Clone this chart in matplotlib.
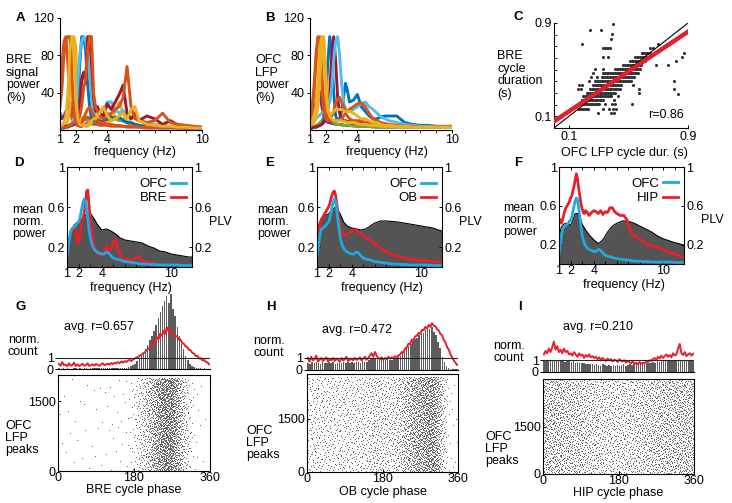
import numpy as np
import matplotlib
matplotlib.use("Agg")
import matplotlib.pyplot as plt
from matplotlib.ticker import FixedLocator
from matplotlib.lines import Line2D

plt.rcParams['font.family'] = ['Liberation Sans', 'DejaVu Sans']
plt.rcParams['font.size'] = 9
plt.rcParams['axes.linewidth'] = 0.8
plt.rcParams['xtick.major.size'] = 3
plt.rcParams['ytick.major.size'] = 3
plt.rcParams['xtick.minor.size'] = 2
plt.rcParams['ytick.minor.size'] = 2
plt.rcParams['xtick.major.pad'] = 0.5
plt.rcParams['ytick.major.pad'] = 1.5
plt.rcParams['xtick.major.width'] = 0.7
plt.rcParams['ytick.major.width'] = 0.7

# ------------------------------------------------------------------ data
MBLUE, MORANGE, MYELLOW = '#0072BD', '#D95319', '#EDB120'
MPURPLE, MGREEN, MLBLUE, MDRED = '#7E2F8E', '#77AC30', '#4DBEEE', '#A2142F'
RED = '#e8202a'
CYAN = '#1fa9e1'

SPEC_FREQ = [1.0, 1.125, 1.25, 1.375, 1.5, 1.625, 1.75, 1.875, 2.0, 2.125, 2.25, 2.375, 2.5, 2.625,
             2.75, 2.875, 3.0, 3.125, 3.25, 3.375, 3.5, 3.75, 4.0, 4.25, 4.5, 4.75, 5.0, 5.25, 5.5,
             5.75, 6.0, 6.5, 7.0, 7.5, 8.0, 8.5, 9.0, 9.5, 10.0]

A_ORANGE1 = [25, 45, 80, 97, 100, 100, 60, 20, 8, 5, 5, 8, 12, 18, 22, 25, 20, 15, 12, 10, 8,
             8, 6, 6, 5, 5, 4, 4, 4, 4, 3, 3, 3, 3, 3, 2, 2, 2, 2]
A_YELLOW1 = [5, 5, 8, 15, 40, 85, 100, 95, 40, 12, 6, 5, 5, 5, 6, 8, 10, 12, 12, 15, 18,
             25, 15, 10, 12, 15, 18, 12, 22, 25, 10, 6, 5, 4, 4, 3, 3, 2, 2]
A_PURPLE = [18, 12, 15, 20, 25, 30, 28, 15, 8, 5, 4, 4, 5, 6, 8, 8, 7, 6, 8, 10, 10,
            12, 10, 12, 14, 12, 10, 8, 7, 6, 5, 4, 4, 3, 3, 3, 2, 2, 2]
A_BLUE = [2, 2, 2, 3, 3, 4, 5, 6, 10, 25, 70, 100, 100, 85, 50, 25, 12, 10, 12, 10, 8,
          10, 12, 14, 12, 14, 10, 8, 8, 6, 5, 4, 4, 3, 3, 3, 2, 2, 2]
A_LBLUE = [3, 3, 4, 4, 5, 6, 8, 12, 20, 50, 80, 95, 100, 95, 80, 60, 35, 20, 15, 14, 18,
           22, 30, 30, 22, 18, 21, 15, 12, 14, 10, 8, 6, 5, 4, 4, 3, 3, 3]
A_DRED = [3, 3, 3, 4, 4, 5, 5, 6, 8, 12, 20, 55, 62, 50, 100, 100, 70, 35, 20, 25, 18,
          15, 28, 22, 30, 38, 48, 18, 12, 18, 10, 15, 12, 6, 10, 5, 4, 3, 3]
A_ORANGE2 = [2, 2, 3, 3, 4, 5, 6, 8, 10, 12, 15, 25, 45, 55, 85, 100, 100, 40, 25, 20, 15,
             12, 15, 18, 22, 25, 35, 68, 25, 12, 10, 8, 10, 18, 8, 6, 5, 4, 3]
A_GREEN = [3, 3, 3, 4, 4, 5, 5, 6, 6, 8, 10, 12, 14, 12, 10, 8, 7, 8, 10, 12, 14,
           16, 18, 15, 12, 10, 12, 8, 6, 6, 5, 4, 4, 3, 3, 3, 2, 2, 2]
A_YELLOW2 = [4, 4, 5, 6, 10, 25, 60, 100, 90, 30, 10, 6, 5, 4, 4, 5, 8, 12, 20, 25, 15,
             10, 8, 10, 20, 30, 18, 10, 8, 6, 5, 4, 4, 3, 3, 3, 2, 2, 2]
A_ORANGE3 = [40, 70, 95, 100, 70, 30, 12, 8, 6, 5, 6, 8, 10, 12, 14, 12, 10, 8, 6, 6, 5,
             5, 5, 4, 4, 4, 4, 3, 3, 3, 3, 2, 2, 2, 2, 2, 2, 2, 2]

B_ORANGE1 = [10, 20, 45, 80, 100, 95, 50, 20, 12, 10, 12, 15, 20, 28, 33, 35, 30, 25, 22, 20, 22,
             25, 28, 29, 25, 18, 12, 10, 8, 7, 6, 5, 4, 4, 3, 3, 3, 3, 3]
B_YELLOW1 = [8, 10, 15, 25, 50, 90, 100, 80, 40, 20, 16, 18, 20, 22, 22, 22, 22, 21, 20, 20, 20,
             18, 15, 12, 12, 10, 8, 8, 6, 5, 5, 4, 4, 3, 3, 3, 3, 3, 3]
B_YELLOW2 = [5, 6, 8, 12, 25, 55, 95, 100, 60, 25, 15, 12, 10, 10, 10, 10, 10, 9, 9, 8, 8,
             8, 7, 6, 6, 5, 5, 5, 4, 4, 4, 3, 3, 3, 3, 3, 3, 3, 3]
B_PURPLE = [12, 15, 20, 30, 45, 40, 25, 15, 10, 8, 8, 7, 7, 6, 6, 6, 6, 5, 5, 5, 5,
            5, 4, 4, 4, 4, 4, 3, 3, 3, 3, 3, 3, 3, 3, 3, 3, 3, 3]
B_BLUE = [2, 2, 3, 3, 4, 5, 6, 10, 30, 70, 100, 85, 40, 15, 10, 12, 20, 35, 50, 42, 30,
          32, 38, 25, 20, 15, 12, 12, 14, 15, 15, 15, 8, 6, 5, 5, 4, 4, 4]
B_DRED = [2, 2, 3, 3, 4, 5, 6, 8, 12, 20, 40, 80, 100, 75, 35, 18, 12, 10, 10, 9, 9,
          8, 8, 8, 7, 7, 6, 6, 5, 5, 5, 4, 4, 3, 3, 3, 3, 3, 3]
B_LBLUE = [8, 8, 10, 12, 14, 16, 18, 20, 22, 25, 30, 45, 75, 95, 100, 80, 50, 30, 22, 20, 20,
           22, 25, 28, 30, 25, 22, 18, 14, 12, 10, 8, 6, 5, 4, 4, 3, 3, 3]
B_GREEN = [3, 3, 4, 5, 6, 8, 10, 14, 18, 15, 12, 10, 8, 7, 6, 6, 5, 5, 5, 5, 5,
           4, 4, 4, 4, 4, 3, 3, 3, 3, 3, 3, 3, 3, 3, 3, 3, 3, 3]
B_ORANGE2 = [15, 25, 40, 70, 95, 100, 60, 30, 20, 15, 12, 10, 10, 10, 10, 10, 12, 15, 18, 15, 12,
             10, 10, 10, 8, 8, 6, 6, 5, 5, 4, 4, 4, 3, 3, 3, 3, 3, 3]

A_LINES = [(MPURPLE, A_PURPLE), (MGREEN, A_GREEN), (MORANGE, A_ORANGE3), (MYELLOW, A_YELLOW2),
           (MBLUE, A_BLUE), (MLBLUE, A_LBLUE), (MDRED, A_DRED), (MORANGE, A_ORANGE2),
           (MORANGE, A_ORANGE1), (MYELLOW, A_YELLOW1)]
B_LINES = [(MPURPLE, B_PURPLE), (MGREEN, B_GREEN), (MBLUE, B_BLUE), (MDRED, B_DRED),
           (MLBLUE, B_LBLUE), (MORANGE, B_ORANGE2), (MORANGE, B_ORANGE1), (MYELLOW, B_YELLOW2),
           (MYELLOW, B_YELLOW1)]

# C: cycle durations (s); dense rows (y, x_from, x_to) and isolated points
C_ROWS = [(0.165, 0.164, 0.237), (0.202, 0.170, 0.309), (0.236, 0.186, 0.332),
          (0.270, 0.197, 0.388), (0.302, 0.220, 0.410), (0.338, 0.242, 0.444),
          (0.372, 0.264, 0.455), (0.406, 0.276, 0.522), (0.438, 0.320, 0.544),
          (0.472, 0.332, 0.567), (0.506, 0.410, 0.578), (0.543, 0.466, 0.589),
          (0.571, 0.510, 0.611), (0.605, 0.544, 0.634), (0.642, 0.589, 0.645),
          (0.682, 0.332, 0.376)]
C_SINGLE_X = [0.293, 0.383, 0.403, 0.332, 0.372, 0.399, 0.417, 0.343, 0.388, 0.410, 0.522,
              0.403, 0.432, 0.573, 0.830, 0.164, 0.180, 0.573, 0.809, 0.170, 0.188, 0.533,
              0.235, 0.809, 0.246, 0.287, 0.264, 0.276, 0.332, 0.686, 0.768, 0.820, 0.332,
              0.365, 0.858, 0.874, 0.645, 0.668, 0.186, 0.701, 0.383, 0.392, 0.242, 0.314, 0.399]
C_SINGLE_Y = [0.125, 0.125, 0.125, 0.165, 0.165, 0.165, 0.165, 0.202, 0.202, 0.202, 0.202,
              0.236, 0.270, 0.302, 0.290, 0.338, 0.338, 0.338, 0.330, 0.372, 0.372, 0.372,
              0.406, 0.400, 0.438, 0.438, 0.472, 0.506, 0.506, 0.543, 0.543, 0.571, 0.605,
              0.605, 0.605, 0.642, 0.682, 0.682, 0.718, 0.718, 0.761, 0.803, 0.840, 0.840, 0.888]
C_FIT_SLOPE, C_FIT_INTERCEPT = 0.854, 0.057
C_R = 0.86

# D-F: PLV (grey) and mean normalised power
PLV_FREQ = [1.0, 1.2, 1.4, 1.6, 1.8, 2.0, 2.2, 2.4, 2.6, 2.8, 3.0, 3.3, 3.6, 4.0, 4.4, 4.8, 5.2,
            5.6, 6.0, 6.5, 7.0, 7.5, 8.0, 8.5, 9.0, 9.5, 10.0, 10.5, 11.0, 11.5, 11.8]
D_PLV = [0.14, 0.28, 0.37, 0.41, 0.44, 0.45, 0.47, 0.49, 0.52, 0.53, 0.54, 0.49, 0.43, 0.37, 0.38,
         0.36, 0.33, 0.29, 0.27, 0.26, 0.25, 0.24, 0.21, 0.19, 0.16, 0.15, 0.13, 0.12, 0.11, 0.10, 0.10]
E_PLV = [0.35, 0.44, 0.49, 0.51, 0.52, 0.53, 0.56, 0.58, 0.60, 0.57, 0.53, 0.45, 0.41, 0.39, 0.38,
         0.37, 0.38, 0.41, 0.44, 0.46, 0.46, 0.455, 0.45, 0.44, 0.43, 0.42, 0.41, 0.40, 0.39, 0.37, 0.36]
F_PLV = [0.28, 0.38, 0.41, 0.42, 0.41, 0.40, 0.45, 0.52, 0.52, 0.48, 0.41, 0.35, 0.30, 0.25, 0.21,
         0.25, 0.33, 0.39, 0.42, 0.445, 0.44, 0.42, 0.39, 0.36, 0.33, 0.29, 0.26, 0.24, 0.22, 0.205, 0.195]

POW_FREQ = [1.0, 1.1, 1.2, 1.3, 1.4, 1.5, 1.6, 1.7, 1.8, 1.9, 2.0, 2.1, 2.2, 2.3, 2.4, 2.5, 2.6, 2.7,
            2.8, 2.9, 3.0, 3.1, 3.2, 3.3, 3.4, 3.5, 3.6, 3.8, 4.0, 4.2, 4.4, 4.6, 4.8, 5.0, 5.2, 5.4,
            5.6, 5.8, 6.0, 6.3, 6.6, 6.9, 7.2, 7.5, 7.8, 8.2, 8.6, 9.0, 9.5, 10.0, 10.5, 11.0, 11.5, 11.8]
NAN = float('nan')
OFC_POW = [0.10, 0.18, 0.28, 0.35, 0.38, 0.39, 0.40, 0.41, 0.42, 0.44, 0.45, 0.48, 0.54, 0.60, 0.65,
           0.68, 0.66, 0.58, 0.48, 0.38, 0.30, 0.25, 0.21, 0.19, 0.17, 0.16, 0.15,
           0.14, 0.13, 0.13, 0.15, 0.14, 0.11, 0.09, 0.08, 0.075, 0.07, 0.06, 0.055,
           0.05, 0.045, 0.04, 0.035, 0.03, 0.03, 0.025, 0.025, 0.02, 0.02, 0.02, 0.02, 0.015, 0.015, 0.015]
BRE_POW = [0.08, 0.15, 0.25, 0.32, 0.36, 0.38, 0.40, 0.42, 0.35, 0.25, 0.24, 0.30, 0.38, 0.47, 0.50,
           0.55, 0.65, 0.76, 0.77, 0.62, 0.48, 0.38, 0.30, 0.24, 0.19, 0.16, 0.14,
           0.13, 0.12, 0.15, 0.21, 0.16, 0.18, 0.26, 0.27, 0.17, 0.12, 0.09, 0.08,
           0.07, 0.07, 0.08, 0.11, 0.06, 0.05, 0.045, 0.04, NAN, NAN, NAN, NAN, NAN, NAN, NAN]
OB_POW = [0.25, 0.32, 0.40, 0.45, 0.48, 0.50, 0.52, 0.54, 0.56, 0.58, 0.60, 0.63, 0.68, 0.72, 0.75,
          0.76, 0.72, 0.64, 0.55, 0.46, 0.40, 0.36, 0.33, 0.32, 0.32, 0.32, 0.33,
          0.34, 0.36, 0.37, 0.37, 0.35, 0.33, 0.31, 0.29, 0.28, 0.27, 0.25, 0.23,
          0.21, 0.18, 0.16, 0.14, 0.12, 0.11, 0.10, 0.09, 0.08, 0.075, 0.07, 0.06, 0.055, 0.05, 0.05]
HIP_POW = [0.47, 0.45, 0.42, 0.45, 0.50, 0.55, 0.58, 0.60, 0.62, 0.64, 0.68, 0.70, 0.75, 0.80, 0.87,
           0.93, 0.88, 0.78, 0.70, 0.62, 0.57, 0.53, 0.52, 0.55, 0.54, 0.52, 0.50,
           0.53, 0.55, 0.54, 0.52, 0.55, 0.51, 0.54, 0.53, 0.58, 0.58, 0.54, 0.52,
           0.50, 0.50, 0.45, 0.33, 0.29, 0.27, 0.24, 0.20, 0.19, 0.17, 0.15, 0.12, 0.10, 0.08, 0.075]

# G-I: phase histograms (72 bins of 5 deg) and red curves (90 points of 4 deg)
G_BARS = [0.05, 0.03, 0.06, 0.04, 0.05, 0.03, 0.04, 0.06, 0.05, 0.03, 0.05, 0.04, 0.06, 0.05, 0.04,
          0.06, 0.05, 0.07, 0.05, 0.06, 0.08, 0.06, 0.07, 0.05, 0.08, 0.07, 0.09, 0.06, 0.08, 0.1,
          0.08, 0.1, 0.12, 0.16, 0.25, 0.35, 0.5, 0.7, 0.9, 1.2, 1.5, 1.8, 2.2, 2.6, 3.0, 3.5, 4.0,
          4.6, 5.2, 5.7, 6.2, 6.6, 6.0, 6.8, 5.5, 4.8, 3.8, 3.0, 2.3, 1.8, 1.2, 0.8, 0.5, 0.3, 0.2,
          0.12, 0.08, 0.05, 0.04, 0.05, 0.03, 0.04]
H_BARS = [0.6, 0.5, 0.7, 0.55, 0.65, 0.6, 0.5, 0.7, 0.6, 0.55, 0.65, 0.6, 0.7, 0.5, 0.6, 0.65, 0.55,
          0.7, 0.6, 0.65, 0.55, 0.7, 0.6, 0.65, 0.7, 0.6, 0.75, 0.65, 0.7, 0.8, 0.9, 1.0, 0.95, 1.0,
          0.85, 0.9, 0.8, 0.85, 0.9, 0.8, 0.85, 0.95, 1.0, 1.1, 1.2, 1.4, 1.6, 1.8, 2.0, 2.2, 2.4,
          2.6, 2.7, 2.9, 3.0, 3.1, 3.3, 3.5, 3.4, 3.6, 3.2, 2.9, 2.3, 1.8, 1.1, 0.7, 0.3, 0.15, 0.1,
          0.08, 0.1, 0.08]
I_BARS = [0.95, 1.0, 0.9, 1.05, 0.95, 1.0, 0.9, 0.95, 1.0, 0.9, 0.85, 0.95, 0.9, 0.85, 0.9, 0.8,
          0.85, 0.8, 0.75, 0.8, 0.7, 0.7, 0.65, 0.7, 0.6, 0.65, 0.6, 0.55, 0.65, 0.6, 0.55, 0.6,
          0.55, 0.6, 0.5, 0.6, 0.55, 0.6, 0.65, 0.55, 0.6, 0.65, 0.6, 0.7, 0.65, 0.7, 0.65, 0.75,
          0.7, 0.8, 0.75, 0.8, 0.85, 0.8, 0.9, 0.85, 0.9, 0.95, 0.9, 1.0, 0.95, 0.9, 1.0, 0.95, 1.05,
          1.0, 0.95, 1.0, 1.05, 0.95, 1.0, 0.95]
G_RED = [0.45, 0.30, 0.62, 0.35, 0.40, 0.25, 0.52, 0.30, 0.36, 0.58, 0.28, 0.42, 0.26, 0.36, 0.48,
         0.30, 0.34, 0.52, 0.28, 0.36, 0.42, 0.30, 0.46, 0.36, 0.30, 0.42, 0.52, 0.36, 0.42, 0.48,
         0.40, 0.54, 0.44, 0.58, 0.50, 0.62, 0.54, 0.68, 0.58, 0.72, 0.64, 0.78, 0.82, 0.72, 0.88,
         0.96, 1.04, 1.10, 1.22, 1.30, 1.44, 1.52, 1.72, 1.80, 2.02, 2.20, 2.48, 2.36, 2.90, 2.70,
         3.20, 3.02, 3.46, 3.20, 3.80, 3.40, 3.62, 3.28, 3.30, 2.96, 3.00, 2.68, 2.70, 2.36, 2.30,
         2.06, 2.00, 1.74, 1.70, 1.48, 1.40, 1.18, 1.20, 0.96, 0.98, 0.78, 0.82, 0.66, 0.60, 0.42]
H_RED = [1.0, 0.7, 1.1, 0.8, 0.9, 1.2, 0.7, 0.85, 1.0, 0.75, 0.9, 1.05, 0.7, 0.9, 0.8, 1.0, 0.75,
         0.95, 0.85, 0.7, 1.0, 0.8, 0.9, 1.1, 0.75, 0.85, 0.95, 0.8, 1.0, 0.85, 0.9, 1.05, 0.8, 0.95,
         1.1, 0.85, 1.0, 1.2, 1.4, 1.1, 1.5, 1.2, 1.0, 0.9, 1.05, 0.85, 1.0, 0.9, 1.1, 0.95, 1.05,
         1.0, 1.15, 1.1, 1.2, 1.3, 1.5, 1.45, 1.8, 1.9, 2.2, 2.15, 2.55, 2.5, 2.8, 2.85, 3.1, 3.0,
         3.35, 3.3, 3.6, 3.45, 3.75, 3.6, 3.9, 3.7, 3.65, 3.4, 3.3, 3.0, 2.9, 2.5, 2.3, 1.9, 1.7,
         1.3, 1.05, 0.8, 0.6, 0.42]
I_RED = [1.5, 1.8, 1.6, 2.0, 1.7, 2.1, 2.6, 1.9, 2.2, 1.7, 1.9, 1.6, 2.0, 1.7, 1.8, 1.5,
         1.6, 1.4, 1.7, 1.5, 1.3, 1.6, 1.4, 1.5, 1.2, 1.45, 1.3, 1.5, 1.25, 1.35, 1.2,
         1.3, 1.1, 1.25, 1.0, 1.2, 1.05, 0.95, 1.15, 1.0, 1.1, 0.9, 1.05, 1.0, 0.85, 1.1, 0.95, 0.9,
         1.0, 0.8, 0.95, 0.85, 0.75, 0.9, 0.7, 0.8, 0.65, 0.85, 0.7, 0.8, 0.75, 0.9, 0.85, 1.0, 0.95,
         1.1, 1.2, 1.05, 1.3, 1.15, 1.4, 1.2, 1.35, 1.5, 1.3, 1.45, 1.25, 1.6, 1.4, 1.5, 2.0, 2.4,
         1.6, 1.45, 1.7, 1.35, 1.5, 1.6, 1.4, 1.55]
G_NPEAKS, H_NPEAKS, I_NPEAKS = 2000, 2700, 3000
G_YMAX, H_YMAX, I_YMAX = 2060, 2770, 3030
AVG_R = ['0.657', '0.472', '0.210']

# ------------------------------------------------------------------ layout helpers
W, H = 732, 503
fig = plt.figure(figsize=(W / 100, H / 100), dpi=100)


def add_ax(l, t, r, b):
    return fig.add_axes([l / W, 1 - b / H, (r - l) / W, (b - t) / H])


def ftext(x, y, s, **kw):
    kw.setdefault('va', 'center')
    kw.setdefault('ha', 'left')
    fig.text(x / W, 1 - y / H, s, **kw)


def letter(x, y, s):
    ftext(x, y, s, fontweight='bold', fontsize=9.5)


def halton(n, base):
    """Deterministic low-discrepancy spreading of the peaks over the raster."""
    out = np.zeros(n)
    i = np.arange(1, n + 1)
    f = 1.0
    while np.any(i > 0):
        f /= base
        out += f * (i % base)
        i = i // base
    return out


# ------------------------------------------------------------------ A, B
def spectra(ax, lines):
    for col, vals in lines:
        ax.plot(SPEC_FREQ, vals, color=col, lw=2.1, solid_joinstyle='round')
    ax.set_xlim(1, 10)
    ax.set_ylim(0, 120)
    for s in ('top', 'right'):
        ax.spines[s].set_visible(False)
    ax.set_xticks([1, 2, 4, 10])
    ax.xaxis.set_minor_locator(FixedLocator([3, 5, 6, 7, 8, 9]))
    ax.set_yticks([40, 80, 120])
    ax.tick_params(direction='out', which='both', length=2.5)


axA = add_ax(60, 18, 202, 130)
spectra(axA, A_LINES)
axB = add_ax(310, 18, 452, 130)
spectra(axB, B_LINES)
ftext(6, 79, 'BRE\nsignal\npower\n(%)', linespacing=1.05)
ftext(255, 79, 'OFC\nLFP\npower\n(%)', linespacing=1.05)
ftext(135, 152, 'frequency (Hz)', ha='center')
ftext(387, 152, 'frequency (Hz)', ha='center')
letter(16, 18, 'A')
letter(265, 18, 'B')

# ------------------------------------------------------------------ C
axC = add_ax(554, 23, 688, 128)
cx, cy = [], []
for yv, x0, x1 in C_ROWS:
    xs = np.arange(x0, x1 + 1e-9, 0.011)
    cx.extend(xs)
    cy.extend([yv] * len(xs))
cx.extend(C_SINGLE_X)
cy.extend(C_SINGLE_Y)
axC.scatter(cx, cy, s=5, color='#333333', linewidths=0, zorder=2)
axC.axline((0, 0), slope=1, color='k', lw=0.8, zorder=3)
axC.axline((0, C_FIT_INTERCEPT), slope=C_FIT_SLOPE, color='#e0202a', lw=3.2, zorder=4)
axC.set_xlim(0, 0.9)
axC.set_ylim(0, 0.9)
for s in ('top', 'right'):
    axC.spines[s].set_visible(False)
axC.set_xticks([0.1, 0.9])
axC.set_yticks([0.1, 0.9])
axC.yaxis.set_minor_locator(FixedLocator([0.2, 0.3, 0.4, 0.5, 0.6, 0.7, 0.8]))
axC.tick_params(direction='in', which='both', length=2.5)
axC.tick_params(axis='x', pad=2)
axC.text(0.97, 0.12, 'r=%.2f' % C_R, transform=axC.transAxes, ha='right', va='center')
ftext(497, 75, 'BRE\ncycle\nduration\n(s)', linespacing=1.05)
ftext(624, 153, 'OFC LFP cycle dur. (s)', ha='center')
letter(514, 17, 'C')


# ------------------------------------------------------------------ D, E, F
def sync(ax, plv, pw, label2):
    ax.fill_between(PLV_FREQ, plv, color='#545454', lw=0)
    ax.plot(PLV_FREQ, plv, color='k', lw=0.8)
    ax.plot(POW_FREQ, pw, color=RED, lw=2.0)
    ax.plot(POW_FREQ, OFC_POW, color=CYAN, lw=2.0)
    ax.set_xlim(1, 11.8)
    ax.set_ylim(0, 1)
    ax.set_xticks([1, 2, 4, 10])
    ax.xaxis.set_minor_locator(FixedLocator([3, 5, 6, 7, 8, 9, 11]))
    ax.set_yticks([0.2, 0.6, 1.0])
    ax.set_yticklabels(['0.2', '0.6', '1'])
    ax.tick_params(direction='in', which='both', top=True, right=True, labelright=True, length=2.5)
    ax.tick_params(axis='x', pad=1)
    ax.legend([Line2D([], [], color=CYAN, lw=2), Line2D([], [], color=RED, lw=2)],
              ['OFC', label2], loc='upper right', bbox_to_anchor=(0.95, 0.89),
              frameon=False, markerfirst=False, handlelength=1.1, handletextpad=0.3,
              labelspacing=0.15, borderpad=0, borderaxespad=0, fontsize=9.5)


axD = add_ax(67, 167, 192, 267)
sync(axD, D_PLV, BRE_POW, 'BRE')
axE = add_ax(317, 167, 442, 267)
sync(axE, E_PLV, OB_POW, 'OB')
axF = add_ax(559, 167, 684, 264)
sync(axF, F_PLV, HIP_POW, 'HIP')
for x0, xc, xp, yc, yx in [(12, 131, 209, 222, 288), (257, 382, 459, 222, 288), (503, 624, 701, 220, 285)]:
    ftext(x0, yc, 'mean\nnorm.\npower', linespacing=1.05)
    ftext(xp, yc, 'PLV')
    ftext(xc, yx, 'frequency (Hz)', ha='center')
letter(14, 163, 'D')
letter(265, 163, 'E')
letter(514, 163, 'F')


# ------------------------------------------------------------------ G, H, I
def phase_panel(hl, hr, hbase, hpx, htop_units, rtop, rbot, bars, red, npk, ymax, xlab, r, rtxt):
    axh = add_ax(hl, hbase - htop_units * hpx, hr, hbase)
    centers = np.arange(len(bars)) * 5 + 2.5
    axh.bar(centers, bars, width=3.6, color='#5c5c5c', lw=0)
    rx = np.arange(len(red)) * 4 + 2
    axh.plot(rx, red, color=RED, lw=1.4)
    axh.axhline(1, color='0.15', lw=0.8)
    axh.set_xlim(0, 360)
    axh.set_ylim(0, htop_units)
    for s in ('top', 'right', 'left'):
        axh.spines[s].set_visible(False)
    axh.set_xticks([])
    axh.set_yticks([0, 1])
    axh.tick_params(axis='y', length=2, pad=1)
    axh.text(rtxt[0], rtxt[1], 'avg. r=' + r, transform=axh.transAxes, ha='left', va='center')

    axr = add_ax(hl, rtop, hr, rbot)
    edges = np.linspace(0, 360, len(bars) + 1)
    cdf = np.concatenate([[0.0], np.cumsum(bars)])
    cdf = cdf / cdf[-1]
    rows = halton(npk, 2) * npk
    ph = np.interp(halton(npk, 3), cdf, edges)
    axr.scatter(ph, rows, s=0.6, color='#555555', linewidths=0)
    axr.set_xlim(0, 360)
    axr.set_ylim(0, ymax)
    axr.set_xticks([0, 180, 360])
    axr.set_yticks([0, 1500])
    axr.tick_params(direction='in', length=2.5)
    axr.tick_params(axis='x', pad=1)
    axr.text(0.5, -0.2, xlab, transform=axr.transAxes, ha='center', va='center')
    return axh, axr


phase_panel(58, 210, 369, 11.0, 7.2, 375, 471, G_BARS, G_RED, G_NPEAKS, G_YMAX,
            'BRE cycle phase', AVG_R[0], (0.04, 0.53))
phase_panel(307, 458, 370, 12.0, 5.0, 374, 472, H_BARS, H_RED, H_NPEAKS, H_YMAX,
            'OB cycle phase', AVG_R[1], (0.10, 0.66))
phase_panel(543, 694, 372, 11.7, 3.6, 379, 474, I_BARS, I_RED, I_NPEAKS, I_YMAX,
            'HIP cycle phase', AVG_R[2], (0.13, 1.08))

ftext(8, 346, 'norm.\ncount', linespacing=1.05)
ftext(253, 347, 'norm.\ncount', linespacing=1.05)
ftext(493, 352, 'norm.\ncount', linespacing=1.05)
ftext(5, 438, 'OFC\nLFP\npeaks', linespacing=1.05)
ftext(246, 443, 'OFC\nLFP\npeaks', linespacing=1.05)
ftext(485, 449, 'OFC\nLFP\npeaks', linespacing=1.05)
letter(16, 307, 'G')
letter(266, 307, 'H')
letter(518, 307, 'I')

fig.savefig('out.png', dpi=100)
